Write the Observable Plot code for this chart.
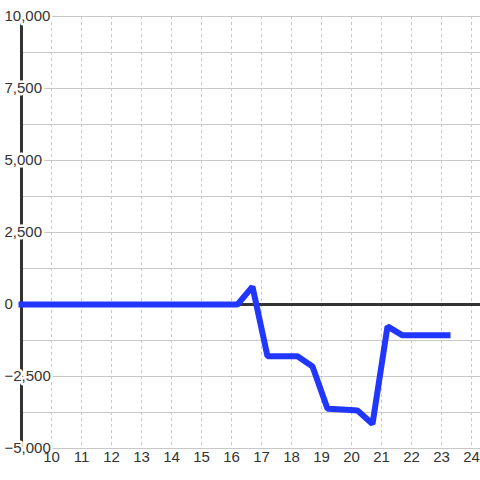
<!DOCTYPE html>
<html>
<head>
<meta charset="utf-8">
<script src="https://cdn.jsdelivr.net/npm/d3@7"></script>
<script src="https://cdn.jsdelivr.net/npm/@observablehq/plot@0.6"></script>
<style>
  html, body { margin: 0; padding: 0; background: #ffffff; }
  #chart { width: 480px; height: 480px; }
  #chart svg text { font-family: "Liberation Sans", Arial, sans-serif; font-size: 15px; }
</style>
</head>
<body>
<div id="chart"></div>
<script>
// Data
const xs = [9, 16.2, 16.7, 17.2, 17.7, 18.2, 18.7, 19.2, 19.7, 20.2, 20.7, 21.2, 21.7, 22.2, 22.7, 23.2];
const values = [0, 0, 620, -1800, -1800, -1800, -2150, -3620, -3650, -3680, -4150, -760, -1070, -1070, -1070, -1070];
const xTicks = [10, 11, 12, 13, 14, 15, 16, 17, 18, 19, 20, 21, 22, 23, 24];
const yLabelTicks = [10000, 7500, 5000, 2500, 0, -2500, -5000];
const yGridTicks = [10000, 8750, 7500, 6250, 5000, 3750, 2500, 1250, -1250, -2500, -3750, -5000];

const series = xs.map((x, i) => ({x, y: values[i]}));
const fmt = d3.format(",");

const chart = Plot.plot({
  width: 480,
  height: 480,
  marginLeft: 21,
  marginRight: 0,
  marginTop: 16,
  marginBottom: 32,
  style: {background: "#ffffff", fontFamily: "'Liberation Sans', Arial, sans-serif", fontSize: "15px"},
  x: {domain: [9, 24.3], axis: null},
  y: {domain: [-5000, 10000], axis: null},
  marks: [
    Plot.ruleY(yGridTicks, {stroke: "#c8c8c8", strokeWidth: 1}),
    Plot.ruleX(xTicks, {stroke: "#c8c8c8", strokeWidth: 1, strokeDasharray: "3,3"}),
    Plot.ruleY([0], {stroke: "#333333", strokeWidth: 3}),
    Plot.ruleX([9], {y1: -5000, y2: 10000, stroke: "#333333", strokeWidth: 3}),
    Plot.text(yLabelTicks, {
      y: d => d, text: d => fmt(d), frameAnchor: "left", dx: -17,
      textAnchor: "start", fontSize: 15, fill: "#333333",
      stroke: "#ffffff", strokeWidth: 5
    }),
    Plot.text(xTicks, {
      x: d => d, text: d => String(d), frameAnchor: "bottom", dy: 13,
      fontSize: 15, fill: "#333333"
    }),
    Plot.line(series, {
      x: "x", y: "y", stroke: "#2137ff", strokeWidth: 6,
      strokeLinecap: "square", strokeLinejoin: "miter"
    })
  ]
});
document.getElementById("chart").appendChild(chart);
</script>
</body>
</html>
